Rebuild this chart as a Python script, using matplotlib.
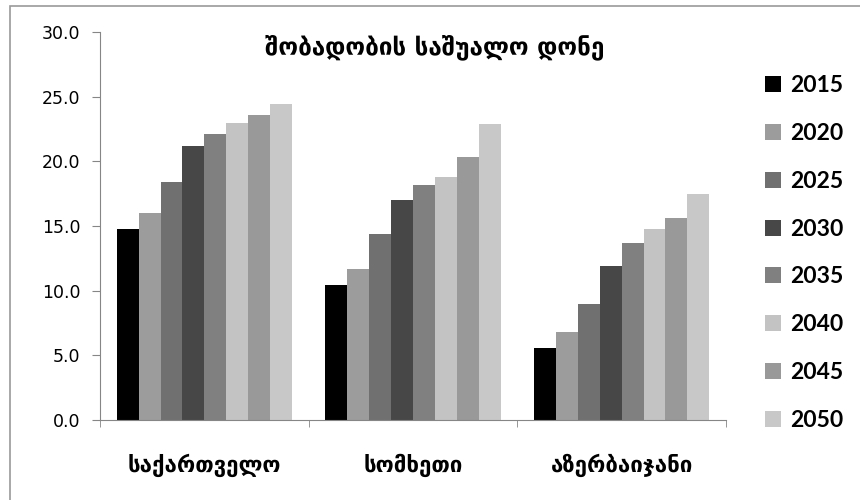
import numpy as np
import matplotlib.pyplot as plt
from matplotlib.patches import Rectangle

# data
countries = ["საქართველო", "სომხეთი", "აზერბაიჯანი"]
years = ["2015", "2020", "2025", "2030", "2035", "2040", "2045", "2050"]
georgia = [14.8, 16.0, 18.4, 21.2, 22.1, 23.0, 23.6, 24.4]
armenia = [10.4, 11.7, 14.4, 17.0, 18.2, 18.8, 20.3, 22.9]
azerbaijan = [5.6, 6.8, 9.0, 11.9, 13.7, 14.8, 15.6, 17.5]
colors = ["#000000", "#9c9c9c", "#707070", "#474747",
          "#808080", "#c3c3c3", "#999999", "#c8c8c8"]

values = np.array([georgia, armenia, azerbaijan])  # country x year
axis_gray = "#868686"

fig = plt.figure(figsize=(8.6, 5), dpi=100)
ax = fig.add_axes([0.1163, 0.16, 0.7279, 0.776])

x = np.arange(len(countries))
w = 0.105
for i, yr in enumerate(years):
    ax.bar(x + (i - 3.5) * w, values[:, i], width=w, color=colors[i],
           label=yr, linewidth=0)

ax.set_xlim(-0.5, 2.5)
ax.set_ylim(0, 30)
ax.set_yticks(np.arange(0, 31, 5))
ax.set_yticklabels([f"{v:.1f}" for v in np.arange(0, 31, 5)],
                   fontsize=12.5, family="DejaVu Sans")
ax.set_xticks(x)
ax.set_xticklabels(countries, fontsize=16, fontweight="bold",
                   family="DejaVu Sans")
ax.set_xticks([-0.5, 0.5, 1.5, 2.5], minor=True)
ax.tick_params(axis="x", which="major", length=0, pad=24)
ax.tick_params(axis="x", which="minor", length=5, color=axis_gray, direction="out")
ax.tick_params(axis="y", length=6, color=axis_gray, direction="out", pad=8)

for s in ["top", "right"]:
    ax.spines[s].set_visible(False)
for s in ["left", "bottom"]:
    ax.spines[s].set_color(axis_gray)

fig.text(0.505, 0.905, "შობადობის საშუალო დონე", ha="center", va="center",
         fontsize=17.5, fontweight="bold", family="DejaVu Sans")

leg = ax.legend(loc="center left", bbox_to_anchor=(0.879, 0.494),
                bbox_transform=fig.transFigure, frameon=False,
                prop={"family": "Lato", "size": 16.5, "weight": "bold"},
                handlelength=0.7, handleheight=0.7, handletextpad=0.4,
                labelspacing=1.17, borderaxespad=0)

# outer chart frame (left and top edges visible)
fig.patches.append(Rectangle((10 / 860, -0.1), 1.0, 1.088, transform=fig.transFigure,
                             fill=False, edgecolor="#9a9a9a", linewidth=1.2))

fig.savefig("out.png", dpi=100)
